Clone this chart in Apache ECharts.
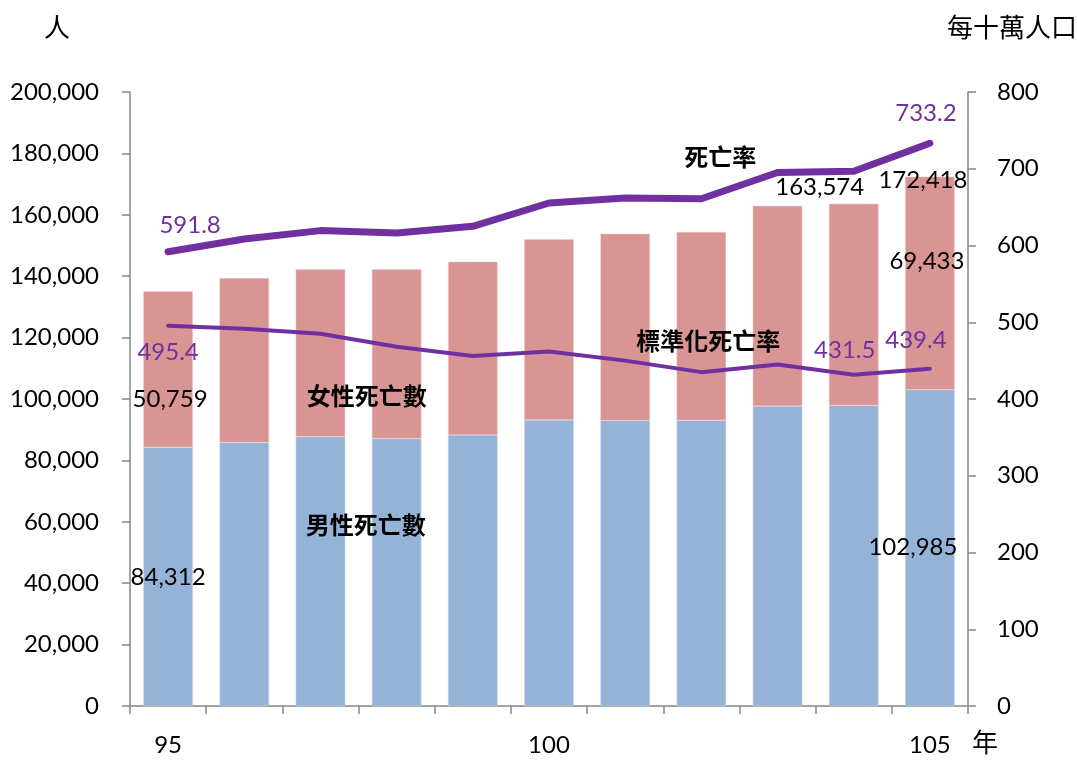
<!DOCTYPE html>
<html>
<head>
<meta charset="utf-8">
<script src="https://cdn.jsdelivr.net/npm/echarts@6/dist/echarts.min.js"></script>
<style>
html,body{margin:0;padding:0;background:#fff;}
#c{width:1077px;height:764px;}
</style>
</head>
<body>
<div id="c"></div>
<script>
// ---- data ----
const years = ['95','96','97','98','99','100','101','102','103','104','105'];
const shownYearLabels = ['95','100','105'];
const male = [84312, 85800, 87700, 87100, 88300, 93200, 93000, 93100, 97700, 97900, 102985];
const female = [50759, 53576, 54583, 55140, 56409, 58830, 60823, 61274, 65211, 65674, 69433];
const crudeRate = [591.8, 608.5, 619.4, 616.2, 625.0, 655.4, 661.9, 660.9, 695.2, 696.8, 733.2];
const stdRate = [495.4, 491.5, 485.0, 468.0, 456.0, 462.0, 450.0, 435.0, 445.0, 431.5, 439.4];
const leftTicks = [0, 20000, 40000, 60000, 80000, 100000, 120000, 140000, 160000, 180000, 200000];
const rightTicks = [0, 100, 200, 300, 400, 500, 600, 700, 800];

// ---- styling ----
const NUM_FONT = 'Lato, "Liberation Sans", sans-serif';
const CJK_FONT = '"Noto Sans CJK TC", "Noto Sans CJK SC", sans-serif';
const PURPLE = '#7030A0';
const fmt = v => Math.round(v).toLocaleString('en-US');

const numLabel = (offset, color) => ({
  show: true, position: 'inside', offset: offset,
  color: color || '#000', fontFamily: NUM_FONT, fontSize: 24, opacity: 1
});
const nameLabel = (text, offset) => ({
  show: true, position: 'inside', offset: offset, formatter: text,
  color: '#000', fontFamily: CJK_FONT, fontSize: 24, fontWeight: 'bold'
});

const totals = male.map((m, i) => m + female[i]);

const maleData = male.map((v, i) => {
  const d = { value: v };
  if (i === 0) d.label = Object.assign(numLabel([0, 1]), { formatter: p => fmt(p.value) });
  if (i === 10) d.label = Object.assign(numLabel([-17, -1]), { formatter: p => fmt(p.value) });
  if (i === 3) d.label = nameLabel('男性死亡數', [-31, -47]);
  return d;
});
const femaleData = female.map((v, i) => {
  const d = { value: v };
  if (i === 0) d.label = Object.assign(numLabel([2, 30]), { formatter: p => fmt(p.value) });
  if (i === 10) d.label = Object.assign(numLabel([-3, -22]), { formatter: p => fmt(p.value) });
  if (i === 3) d.label = nameLabel('女性死亡數', [-30, 42]);
  return d;
});
const totalData = totals.map((v, i) => {
  const d = { value: v };
  if (i === 9) d.label = Object.assign(numLabel([-34, -17]), { formatter: p => fmt(p.value) });
  if (i === 10) d.label = Object.assign(numLabel([-7, 4]), { formatter: p => fmt(p.value) });
  return d;
});
const crudeData = crudeRate.map((v, i) => {
  const d = { value: v };
  if (i === 0) d.label = Object.assign(numLabel([22, -27], PURPLE), { formatter: p => p.value.toFixed(1) });
  if (i === 10) d.label = Object.assign(numLabel([-4, -30], PURPLE), { formatter: p => p.value.toFixed(1) });
  if (i === 7) d.label = nameLabel('死亡率', [19, -42]);
  return d;
});
const stdData = stdRate.map((v, i) => {
  const d = { value: v };
  if (i === 0) d.label = Object.assign(numLabel([0, 26], PURPLE), { formatter: p => p.value.toFixed(1) });
  if (i === 9) d.label = Object.assign(numLabel([-9, -25], PURPLE), { formatter: p => p.value.toFixed(1) });
  if (i === 10) d.label = Object.assign(numLabel([-14, -28], PURPLE), { formatter: p => p.value.toFixed(1) });
  if (i === 7) d.label = nameLabel('標準化死亡率', [7, -31]);
  return d;
});

const axisLineStyle = { color: '#868686', width: 1.5 };

const option = {
  animation: false,
  backgroundColor: '#fff',
  grid: { left: 130, right: 109, top: 92, bottom: 58 },
  xAxis: {
    type: 'category',
    data: years,
    boundaryGap: true,
    axisLine: { lineStyle: axisLineStyle },
    axisTick: { show: true, alignWithLabel: false, interval: 0, length: 8, lineStyle: axisLineStyle },
    axisLabel: {
      interval: 0,
      formatter: v => shownYearLabels.includes(v) ? v : '',
      margin: 27, color: '#000', fontFamily: NUM_FONT, fontSize: 24
    },
    splitLine: { show: false }
  },
  yAxis: [
    {
      type: 'value', min: leftTicks[0], max: leftTicks[leftTicks.length - 1],
      interval: leftTicks[1] - leftTicks[0],
      axisLine: { show: true, lineStyle: axisLineStyle },
      axisTick: { show: true, length: 8, lineStyle: axisLineStyle },
      axisLabel: { formatter: v => fmt(v), margin: 31, color: '#000', fontFamily: NUM_FONT, fontSize: 24 },
      splitLine: { show: false }
    },
    {
      type: 'value', min: rightTicks[0], max: rightTicks[rightTicks.length - 1],
      interval: rightTicks[1] - rightTicks[0],
      position: 'right',
      axisLine: { show: true, lineStyle: axisLineStyle },
      axisTick: { show: true, length: 8, lineStyle: axisLineStyle },
      axisLabel: { margin: 29, color: '#000', fontFamily: NUM_FONT, fontSize: 24 },
      splitLine: { show: false }
    }
  ],
  series: [
    {
      name: '男性死亡數', type: 'bar', stack: 'deaths', yAxisIndex: 0,
      barCategoryGap: '35%',
      itemStyle: { color: '#95B3D7', borderColor: '#C6D7EC', borderWidth: 0.5 },
      label: { show: false },
      data: maleData, z: 2
    },
    {
      name: '女性死亡數', type: 'bar', stack: 'deaths', yAxisIndex: 0,
      barCategoryGap: '35%',
      itemStyle: { color: '#D99594', borderColor: '#EEC9C8', borderWidth: 0.5 },
      label: { show: false },
      data: femaleData, z: 2
    },
    {
      name: '合計', type: 'scatter', yAxisIndex: 0,
      symbol: 'circle', symbolSize: 1,
      itemStyle: { color: 'rgba(0,0,0,0)', opacity: 1 },
      label: { show: false },
      data: totalData, z: 5
    },
    {
      name: '死亡率', type: 'line', yAxisIndex: 1,
      symbol: 'circle', symbolSize: 0, showSymbol: true,
      lineStyle: { color: PURPLE, width: 7, cap: 'round', join: 'round' },
      itemStyle: { color: PURPLE },
      label: { show: false },
      data: crudeData, z: 4
    },
    {
      name: '標準化死亡率', type: 'line', yAxisIndex: 1,
      symbol: 'circle', symbolSize: 0, showSymbol: true,
      lineStyle: { color: PURPLE, width: 4, cap: 'round', join: 'round' },
      itemStyle: { color: PURPLE },
      label: { show: false },
      data: stdData, z: 4
    }
  ],
  graphic: [
    { type: 'text', left: 44, top: 14, style: { text: '人', fontFamily: CJK_FONT, fontSize: 26, fill: '#000' } },
    { type: 'text', right: 0, top: 14, style: { text: '每十萬人口', fontFamily: CJK_FONT, fontSize: 26, fill: '#000', letterSpacing: 1 } },
    { type: 'text', left: 972, top: 729, style: { text: '年', fontFamily: CJK_FONT, fontSize: 26, fill: '#000' } }
  ]
};

const chart = echarts.init(document.getElementById('c'), null, { renderer: 'canvas' });
chart.setOption(option);
</script>
</body>
</html>
